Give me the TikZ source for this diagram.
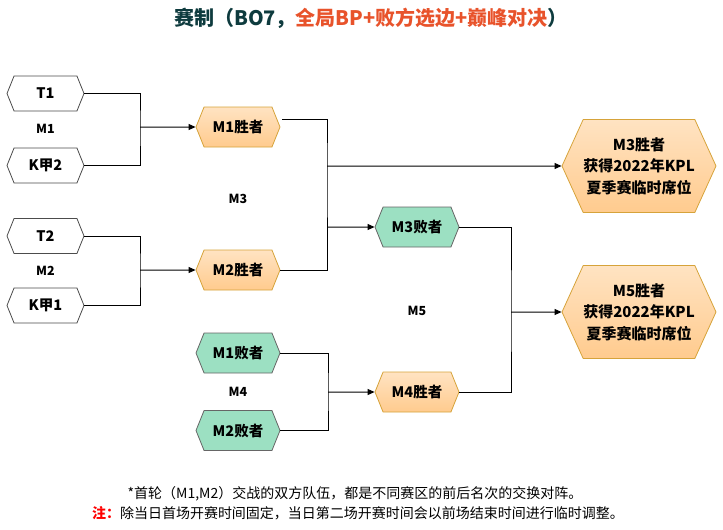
\documentclass[tikz,border=0pt]{standalone}
\usepackage{fontspec}
\setmainfont{Noto Sans CJK SC}
\usetikzlibrary{shapes.symbols,arrows.meta}
\definecolor{wintop}{HTML}{FFE3C2}
\definecolor{winbot}{HTML}{FFCB8E}
\definecolor{winline}{HTML}{D6A33A}
\definecolor{losefill}{HTML}{9CE0C2}
\definecolor{titledark}{HTML}{0E3B3E}
\definecolor{titleorange}{HTML}{E8532B}

\begin{document}
\begin{tikzpicture}[x=1pt,y=-1pt,
  hex/.style={signal,signal to=east and west,signal pointer angle=136,draw,line width=0.8pt,inner sep=0pt,minimum width=84pt,minimum height=40pt,font=\fontsize{14.5}{17}\selectfont\bfseries},
  team/.style={hex,draw=black!70,fill=white,minimum width=77pt,minimum height=35pt},
  win/.style={hex,draw=winline,top color=wintop,bottom color=winbot},
  lose/.style={hex,draw=black!60,fill=losefill},
  big/.style={win,minimum width=154pt,minimum height=93pt,signal pointer angle=131,align=center,font=\fontsize{15}{21.5}\selectfont\bfseries},
  lab/.style={font=\fontsize{12.5}{14}\selectfont\bfseries},
  con/.style={line width=1pt},
  arr/.style={con,-{Triangle[length=7pt,width=6pt]}}]
\useasboundingbox (0,0) rectangle (723,530);

\node (TT) at (371,18) {\fontsize{20}{24}\selectfont\bfseries\color{titledark}赛制（BO7，\color{titleorange}全局BP+败方选边+巅峰对决\color{titledark}）};

\draw (45.5,93.5) node[team] (T1) {T1} +(0,35.5) node[lab] (G1) {M1} +(0,72) node[team] (K2) {K甲2}
  +(0,142.5) node[team] (T2) {T2} +(0,177.5) node[lab] (G2) {M2} +(0,212) node[team] (K1) {K甲1};
\draw (238,127) node[win] (W1) {M1胜者} +(0,72) node[lab] (G3) {M3} +(0,143) node[win] (W2) {M2胜者}
  +(0,226) node[lose] (L1) {M1败者} +(0,265) node[lab] (G4) {M4} +(0,303.5) node[lose] (L2) {M2败者};
\draw (417,227) node[lose] (L3) {M3败者} +(0,84) node[lab] (G5) {M5} +(0,165) node[win] (W4) {M4胜者};
\node[big] (W3) at (639,166) {M3胜者\\获得2022年KPL\\夏季赛临时席位};
\node[big] (W5) at (639,312) {M5胜者\\获得2022年KPL\\夏季赛临时席位};

\coordinate (J1) at (140,127);
\coordinate (J2) at (140,270);
\coordinate (J3) at (327,166);
\coordinate (J3b) at (327,227);
\coordinate (J4) at (328,392);
\coordinate (J5) at (511,312);

% M1, M2
\draw[con] (T1) -| (J1) |- (K2);
\draw[arr] (J1)--(W1);
\draw[con] (T2) -| (J2) |- (K1);
\draw[arr] (J2)--(W2);
% M3
\draw[con] ([xshift=2pt,yshift=8pt]W1.east) -| (J3) |- (W2);
\draw[arr] (J3)--(W3);
\draw[arr] (J3b)--(L3);
% M4, M5
\draw[con] (L1) -| (J4) |- (L2);
\draw[arr] (J4)--(W4);
\draw[con] (L3) -| (J5) |- (W4);
\draw[arr] (J5)--(W5);

\node (N1) at (355,494) {\fontsize{14}{16}\selectfont *首轮（M1,M2）交战的双方队伍，都是不同赛区的前后名次的交换对阵。};
\node (N2) at (358,513) {\fontsize{14}{16}\selectfont{\bfseries\color{red}注：}除当日首场开赛时间固定，当日第二场开赛时间会以前场结束时间进行临时调整。};
\end{tikzpicture}
\end{document}
